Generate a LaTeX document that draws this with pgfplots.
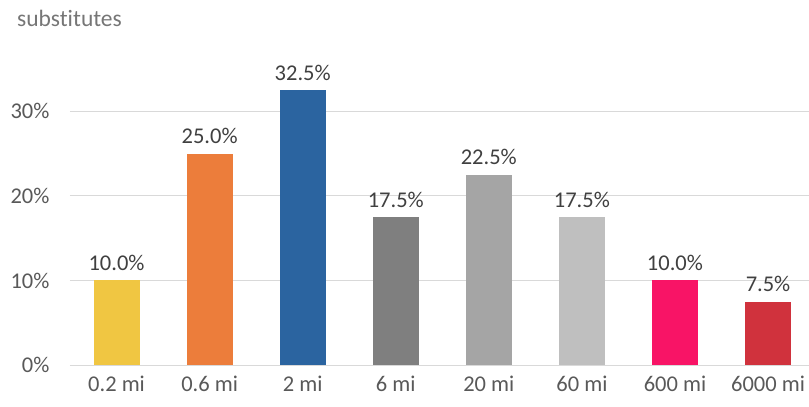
\documentclass[border=0pt]{standalone}
\usepackage{pgfplots}
\pgfplotsset{compat=1.18}
\usepackage{fontspec}
\setmainfont[Ligatures=NoCommon]{Carlito}
\definecolor{c1}{HTML}{F0C642}
\definecolor{c2}{HTML}{EC7D3B}
\definecolor{c3}{HTML}{2B64A0}
\definecolor{c4}{HTML}{7F7F7F}
\definecolor{c5}{HTML}{A5A5A5}
\definecolor{c6}{HTML}{BFBFBF}
\definecolor{c7}{HTML}{F81466}
\definecolor{c8}{HTML}{D0323D}
\definecolor{gridc}{HTML}{D9D9D9}
\definecolor{ticktxt}{HTML}{595959}
\definecolor{valtxt}{HTML}{404040}
\definecolor{titletxt}{HTML}{767676}
\begin{document}
\begin{tikzpicture}
\path[use as bounding box] (-70pt,-42pt) rectangle (739pt,365pt);
\begin{axis}[
  scale only axis,
  width=739pt, height=296pt,
  xmin=-0.5, xmax=7.44,
  ymin=0, ymax=35,
  axis line style={draw=none},
  major tick length=0pt,
  ytick={0,10,20,30},
  yticklabel={\pgfmathprintnumber{\tick}\%},
  xtick={0,1,2,3,4,5,6,7},
  xticklabels={0.2 mi,0.6 mi,2 mi,6 mi,20 mi,60 mi,600 mi,6000 mi},
  /pgf/number format/assume math mode=true,
  ymajorgrids,
  grid style={gridc, line width=0.8pt},
  tick label style={font=\fontsize{22.5}{26}\selectfont, text=ticktxt},
  yticklabel style={xshift=-17pt},
  xticklabel style={yshift=-7pt},
  ybar, bar width=46pt, bar shift=0pt,
  nodes near coords={\pgfmathprintnumber[fixed,fixed zerofill,precision=1]{\pgfplotspointmeta}\%},
  every node near coord/.append style={font=\fontsize{22.5}{26}\selectfont, text=valtxt, yshift=6pt},
  clip=false,
]
\addplot[fill=c1, draw=none] coordinates {(0,10.0)};
\addplot[fill=c2, draw=none] coordinates {(1,25.0)};
\addplot[fill=c3, draw=none] coordinates {(2,32.5)};
\addplot[fill=c4, draw=none] coordinates {(3,17.5)};
\addplot[fill=c5, draw=none] coordinates {(4,22.5)};
\addplot[fill=c6, draw=none] coordinates {(5,17.5)};
\addplot[fill=c7, draw=none] coordinates {(6,10.0)};
\addplot[fill=c8, draw=none] coordinates {(7,7.5)};
\end{axis}
\node[anchor=west, font=\fontsize{23.5}{27}\selectfont, text=titletxt, inner sep=0pt] at (-53pt,347pt) {substitutes};
\end{tikzpicture}
\end{document}
